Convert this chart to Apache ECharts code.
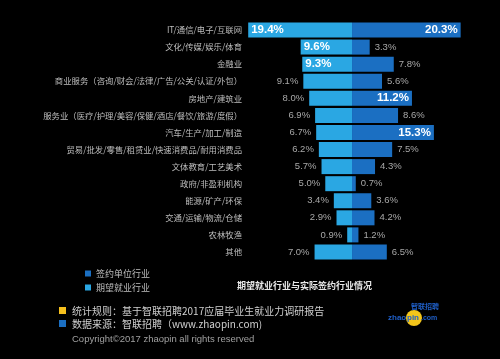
<!DOCTYPE html>
<html><head><meta charset="utf-8">
<script src="https://cdn.jsdelivr.net/npm/echarts@6/dist/echarts.min.js"></script>
<style>html,body{margin:0;padding:0;background:#000;}#c{width:500px;height:359px;}</style>
</head><body><div id="c"></div>
<script>
const categories = ['IT/通信/电子/互联网','文化/传媒/娱乐/体育','金融业','商业服务（咨询/财会/法律/广告/公关/认证/外包）','房地产/建筑业','服务业（医疗/护理/美容/保健/酒店/餐饮/旅游/度假）','汽车/生产/加工/制造','贸易/批发/零售/租赁业/快速消费品/耐用消费品','文体教育/工艺美术','政府/非盈利机构','能源/矿产/环保','交通/运输/物流/仓储','农林牧渔','其他'];
const expected = [19.4, 9.6, 9.3, 9.1, 8.0, 6.9, 6.7, 6.2, 5.7, 5.0, 3.4, 2.9, 0.9, 7.0];
const signed = [20.3, 3.3, 7.8, 5.6, 11.2, 8.6, 15.3, 7.5, 4.3, 0.7, 3.6, 4.2, 1.2, 6.5];
const seriesNames = ['期望就业行业','签约单位行业'];
const title = '期望就业行业与实际签约行业情况';
const footRule = '统计规则：基于智联招聘2017应届毕业生就业力调研报告';
const footSource = '数据来源：智联招聘（www.zhaopin.com)';
const footCopy = 'Copyright©2017 zhaopin all rights reserved';

const LIGHT = '#2aa7e3', DARK = '#1b6fc2';
function top3(arr){ return arr.slice().sort((a,b)=>b-a).slice(0,3); }
const topE = top3(expected), topS = top3(signed);
const inLbl = {show:true, color:'#fff', fontWeight:'bold', fontSize:11.5, fontFamily:'Liberation Sans, Arial', distance:3};
const outLbl = {show:true, color:'#a8a8a8', fontSize:9.5, fontFamily:'Liberation Sans, Arial', distance:5};

const chart = echarts.init(document.getElementById('c'));
chart.setOption({
  backgroundColor:'#000',
  animation:false,
  grid:{left:245, right:35.6, top:21.5, bottom:359-260.5},
  xAxis:{type:'value', min:-20, max:21, show:false},
  yAxis:{type:'category', data:categories, inverse:true,
    axisLine:{show:false}, axisTick:{show:false},
    axisLabel:{color:'#bdbdbd', fontSize:8.4, fontFamily:'Noto Sans CJK SC', margin:3}},
  legend:{data:[seriesNames[1], seriesNames[0]], orient:'vertical', left:80, top:264,
    itemWidth:6, itemHeight:6, itemGap:5, icon:'rect',
    textStyle:{color:'#bdbdbd', fontSize:9, fontFamily:'Noto Sans CJK SC'}},
  title:{text:title, left:232, top:276, textStyle:{color:'#e8e8e8', fontSize:9, fontWeight:'bold', fontFamily:'Noto Sans CJK SC'}},
  series:[
    {name:seriesNames[0], type:'bar', stack:'a', barWidth:15, itemStyle:{color:LIGHT},
     data: expected.map(v=>({value:-v, label: topE.includes(v) ? Object.assign({position:'insideLeft'}, inLbl) : Object.assign({position:'left'}, outLbl)})),
     label:{formatter:p=>(-p.value).toFixed(1)+'%'}},
    {name:seriesNames[1], type:'bar', stack:'a', barWidth:15, itemStyle:{color:DARK},
     data: signed.map(v=>({value:v, label: topS.includes(v) ? Object.assign({position:'insideRight'}, inLbl) : Object.assign({position:'right'}, outLbl)})),
     label:{formatter:p=>p.value.toFixed(1)+'%'}}
  ],
  graphic:[
    {type:'rect', shape:{x:59, y:307, width:7, height:7}, style:{fill:'#f5c01d'}},
    {type:'rect', shape:{x:59, y:320, width:7, height:7}, style:{fill:'#1b6fc2'}},
    {type:'text', x:72, y:311, style:{text:footRule, fill:'#cfcfcf', fontSize:10, fontFamily:'Noto Sans CJK SC', textVerticalAlign:'middle'}},
    {type:'text', x:72, y:324, style:{text:footSource, fill:'#cfcfcf', fontSize:10, fontFamily:'Noto Sans CJK SC', textVerticalAlign:'middle'}},
    {type:'text', x:72, y:339, style:{text:footCopy, fill:'#a0a0a0', fontSize:9.5, fontFamily:'Liberation Sans, Arial', textVerticalAlign:'middle'}},
    {type:'circle', shape:{cx:414, cy:318, r:8}, style:{fill:'#f3c51a'}},
    {type:'text', x:388, y:318, style:{text:'zhao', fill:'#1f5fc8', fontSize:8, fontWeight:'bold', fontFamily:'Liberation Sans', textVerticalAlign:'middle'}},
    {type:'text', x:407, y:318, style:{text:'pin', fill:'#1f5fc8', fontSize:8, fontWeight:'bold', fontFamily:'Liberation Sans', textVerticalAlign:'middle'}},
    {type:'text', x:421, y:318, style:{text:'.com', fill:'#1f5fc8', fontSize:7, fontWeight:'bold', fontFamily:'Liberation Sans', textVerticalAlign:'middle'}},
    {type:'text', x:411, y:306, style:{text:'智联招聘', fill:'#1f5fc8', fontSize:7, fontWeight:'bold', fontFamily:'Noto Sans CJK SC', textVerticalAlign:'middle'}}
  ]
});
</script></body></html>
